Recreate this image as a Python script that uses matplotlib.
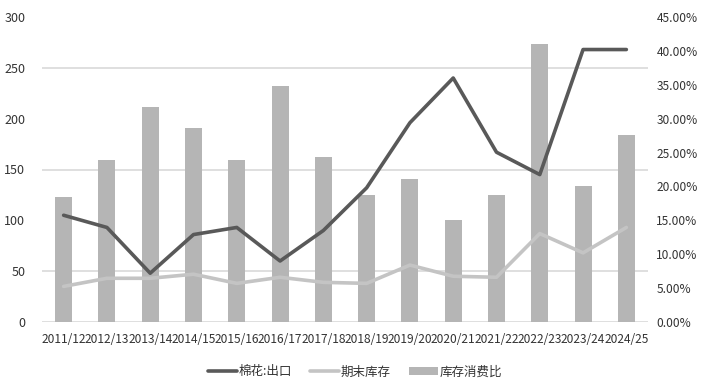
import matplotlib.pyplot as plt
import numpy as np
from matplotlib.ticker import MultipleLocator, PercentFormatter

plt.rcParams['font.family'] = ['Noto Sans CJK SC', 'DejaVu Sans']

years = ["2011/12", "2012/13", "2013/14", "2014/15", "2015/16", "2016/17", "2017/18",
         "2018/19", "2019/20", "2020/21", "2021/22", "2022/23", "2023/24", "2024/25"]
export = [105, 93, 48, 86, 93, 60, 90, 132, 196, 240, 167, 145, 268, 268]
stock = [35, 43, 43, 47, 38, 44, 39, 38, 56, 45, 44, 87, 68, 93]
ratio = [18.45, 23.85, 31.65, 28.65, 23.85, 34.8, 24.3, 18.75, 21.15, 15.0, 18.75, 40.95, 20.1, 27.6]

x = np.arange(len(years))
txt = "#333333"

fig = plt.figure(figsize=(7.02, 3.92), dpi=100)
ax2 = fig.add_axes([42 / 702, 1 - 322 / 392, 606 / 702, 305 / 392])
ax = ax2.twinx()

# bars on the right (percent) axis, drawn underneath
ax2.bar(x, ratio, width=0.39, color="#b5b5b5", zorder=2, label="库存消费比")
ax2.set_ylim(0, 45)
ax2.yaxis.set_major_locator(MultipleLocator(5))
ax2.yaxis.set_major_formatter(PercentFormatter(decimals=2))
ax2.yaxis.tick_right()
ax2.yaxis.set_minor_locator(MultipleLocator(7.5))
ax2.grid(which="minor", axis="y", color="#d9d9d9", lw=1.2, zorder=0)
ax2.tick_params(axis="y", which="both", length=0, labelsize=8.6, labelcolor=txt, pad=6)

# lines on the left axis
ax.plot(x, export, color="#595959", lw=2.6, label="棉花:出口", solid_capstyle="round")
ax.plot(x, stock, color="#c4c4c4", lw=2.6, label="期末库存", solid_capstyle="round")
ax.set_ylim(0, 300)
ax.yaxis.set_major_locator(MultipleLocator(50))
ax.yaxis.tick_left()
ax.tick_params(axis="y", length=0, labelsize=9, labelcolor=txt, pad=12)

ax2.set_xlim(-0.5, len(years) - 0.5)
ax2.set_xticks(x)
ax2.set_xticklabels(years)
ax2.tick_params(axis="x", length=0, labelsize=8.6, labelcolor=txt, pad=8)

for a in (ax, ax2):
    for s in a.spines.values():
        s.set_visible(False)
ax2.axhline(0, color="#d9d9d9", lw=1.2, zorder=1)

h1, l1 = ax.get_legend_handles_labels()
h2, l2 = ax2.get_legend_handles_labels()
fig.legend(h1 + h2, l1 + l2, loc="center", bbox_to_anchor=(355 / 702, 1 - 372 / 392), ncol=3,
           frameon=False, fontsize=9, labelcolor=txt, handlelength=2.3,
           handletextpad=0.1, columnspacing=1.5, handleheight=0.6)

fig.savefig("out.png", dpi=100)
